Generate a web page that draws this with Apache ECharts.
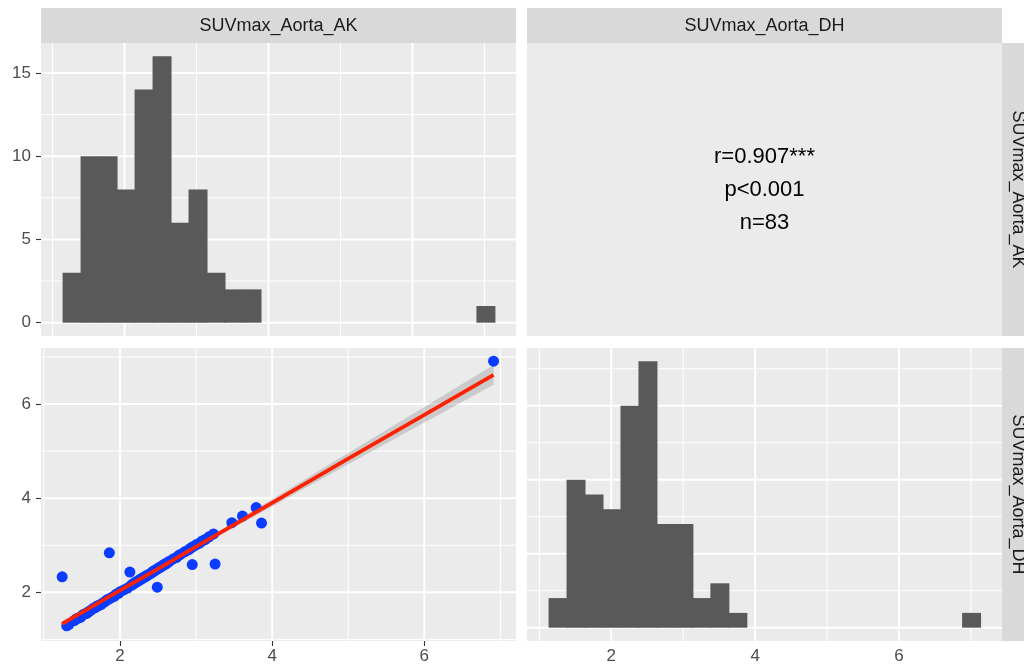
<!DOCTYPE html>
<html>
<head>
<meta charset="utf-8">
<script src="https://cdn.jsdelivr.net/npm/echarts@6/dist/echarts.min.js"></script>
<style>
  html, body { margin: 0; padding: 0; background: #ffffff; }
  #chart { width: 1024px; height: 669px; }
</style>
</head>
<body>
<div id="chart"></div>
<script>
// Paired SUVmax measurements (AK vs DH), one entry per subject
const akValues = [
  1.30, 1.33, 1.24,
  1.40, 1.43, 1.45, 1.48, 1.50, 1.52, 1.55, 1.57, 1.59, 1.62,
  1.65, 1.68, 1.70, 1.72, 1.75, 1.77, 1.80, 1.83, 1.86, 1.86,
  1.90, 1.93, 1.95, 1.98, 2.00, 2.05, 2.10, 2.13,
  2.15, 2.17, 2.19, 2.21, 2.23, 2.25, 2.27, 2.29, 2.30, 2.32, 2.34, 2.35, 2.36, 2.37,
  2.40, 2.42, 2.43, 2.45, 2.46, 2.48, 2.49, 2.50, 2.52, 2.53, 2.55, 2.57, 2.58, 2.60, 2.61, 2.62,
  2.65, 2.70, 2.74, 2.77, 2.80, 2.85,
  2.90, 2.93, 2.95, 2.96, 3.00, 3.04, 3.08, 3.12,
  3.17, 3.23, 3.25,
  3.47, 3.61,
  3.79, 3.86,
  6.91
];
const dhValues = [
  1.29, 1.32, 2.33,
  1.40, 1.44, 1.45, 1.47, 1.50, 1.53, 1.55, 1.56, 1.59, 1.62,
  1.66, 1.68, 1.71, 1.72, 1.74, 1.77, 1.80, 1.84, 1.86, 2.84,
  1.90, 1.92, 1.96, 1.98, 2.01, 2.05, 2.09, 2.43,
  2.15, 2.18, 2.19, 2.22, 2.23, 2.26, 2.27, 2.29, 2.31, 2.32, 2.34, 2.36, 2.36, 2.37,
  2.40, 2.42, 2.44, 2.45, 2.47, 2.48, 2.11, 2.51, 2.52, 2.54, 2.55, 2.58, 2.59, 2.60, 2.62, 2.62,
  2.66, 2.71, 2.74, 2.78, 2.81, 2.86,
  2.90, 2.94, 2.59, 2.97, 3.01, 3.04, 3.09, 3.12,
  3.18, 3.24, 2.60,
  3.48, 3.62,
  3.80, 3.47,
  6.91
];

// Histogram bins (width 0.25) and counts per bin
const akBinStart = 1.139;
const dhBinStart = 1.128;
const binWidth = 0.25;
const akCounts = [3, 10, 10, 8, 14, 16, 6, 8, 3, 2, 2, 0, 0, 0, 0, 0, 0, 0, 0, 0, 0, 0, 0, 1];
const dhCounts = [2, 10, 9, 8, 15, 18, 7, 7, 2, 3, 1, 0, 0, 0, 0, 0, 0, 0, 0, 0, 0, 0, 0, 1];

// Linear fit of DH on AK with its 95% confidence band
const fitX      = [1.24, 2.00, 2.50, 3.00, 4.00, 5.00, 6.00, 6.91];
const fitY      = [1.33, 2.04, 2.50, 2.97, 3.90, 4.84, 5.77, 6.62];
const bandLower = [1.265, 2.00, 2.465, 2.93, 3.825, 4.72, 5.605, 6.41];
const bandUpper = [1.395, 2.08, 2.535, 3.01, 3.975, 4.96, 5.935, 6.83];

// Tick labels and grid breaks
const suvTicks = [2, 4, 6];
const suvMinor = [1, 3, 5, 7];
const countTicks = [0, 5, 10, 15];
const countMinorAK = [2.5, 7.5, 12.5];
const countMinorDH = [2.5, 7.5, 12.5, 17.5];

const stripLabels = ['SUVmax_Aorta_AK', 'SUVmax_Aorta_DH'];
const corrLines = ['r=0.907***', 'p<0.001', 'n=83'];

// ---- layout ----
const FONT = '"Liberation Sans", Arial, Helvetica, sans-serif';
const P = {
  tl: { left: 41, top: 43, width: 475, height: 293 },
  tr: { left: 527, top: 43, width: 475, height: 293 },
  bl: { left: 41, top: 348, width: 475, height: 293 },
  br: { left: 527, top: 348, width: 475, height: 293 }
};
const STRIP = 35;

const range = {
  akHistX: [0.839, 7.439], akHistY: [-0.8, 16.8],
  scatX: [0.962, 7.205], scatY: [0.966, 7.19],
  dhHistX: [0.828, 7.433], dhHistY: [-0.9, 18.9]
};

const panelBg = '#EBEBEB';
const stripBg = '#D9D9D9';
const axisTextColor = '#4D4D4D';
const tickColor = '#333333';

function gridItems(xMaj, xMin, yMaj, yMin) {
  const out = [];
  xMin.forEach(v => out.push([0, v, 0]));
  yMin.forEach(v => out.push([1, v, 0]));
  xMaj.forEach(v => out.push([0, v, 1]));
  yMaj.forEach(v => out.push([1, v, 1]));
  return out;
}

function gridRenderer(xr, yr) {
  return function (params, api) {
    const dir = api.value(0), v = api.value(1), major = api.value(2);
    const a = dir === 0 ? api.coord([v, yr[0]]) : api.coord([xr[0], v]);
    const b = dir === 0 ? api.coord([v, yr[1]]) : api.coord([xr[1], v]);
    return {
      type: 'line',
      shape: { x1: a[0], y1: a[1], x2: b[0], y2: b[1] },
      style: { stroke: '#FFFFFF', lineWidth: major ? 2 : 1 },
      silent: true
    };
  };
}

function histItems(start, counts) {
  return counts
    .map((c, i) => [start + i * binWidth, start + (i + 1) * binWidth, c])
    .filter(d => d[2] > 0);
}

// Each bar overlaps its right neighbour by a pixel so adjacent bins join without seams
function histRenderer(params, api) {
  const p0 = api.coord([api.value(0), api.value(2)]);
  const p1 = api.coord([api.value(1), 0]);
  return {
    type: 'rect',
    shape: { x: p0[0], y: p0[1], width: p1[0] - p0[0] + 1, height: p1[1] - p0[1] },
    style: { fill: '#595959' }
  };
}

function bandRenderer(params, api) {
  const pts = [];
  for (let i = 0; i < fitX.length; i++) pts.push(api.coord([fitX[i], bandUpper[i]]));
  for (let i = fitX.length - 1; i >= 0; i--) pts.push(api.coord([fitX[i], bandLower[i]]));
  return { type: 'polygon', shape: { points: pts }, style: { fill: 'rgba(153,153,153,0.4)' } };
}

function valueAxis(gridIndex, r, labels, side) {
  const show = !!labels;
  return {
    type: 'value',
    gridIndex: gridIndex,
    min: r[0],
    max: r[1],
    position: side,
    axisLine: { show: false },
    splitLine: { show: false },
    minorSplitLine: { show: false },
    axisTick: show ? { show: true, customValues: labels, length: 5, lineStyle: { color: tickColor, width: 1.1 } } : { show: false },
    axisLabel: show ? {
      show: true, customValues: labels, color: axisTextColor, fontSize: 17, fontFamily: FONT,
      margin: side === 'left' ? 10 : 7
    } : { show: false }
  };
}

const scatterData = akValues.map((x, i) => [x, dhValues[i]]);
const fitData = fitX.map((x, i) => [x, fitY[i]]);

const chart = echarts.init(document.getElementById('chart'), null, { renderer: 'canvas' });

const gridCommon = { show: true, backgroundColor: panelBg, borderWidth: 0, containLabel: false, outerBoundsMode: 'none' };

function stripText(text, x, y, rot) {
  return {
    type: 'text', x: x, y: y, rotation: rot || 0, z: 10,
    style: { text: text, fontSize: 18, fontFamily: FONT, fill: '#1A1A1A', align: 'center', verticalAlign: 'middle' }
  };
}

chart.setOption({
  animation: false,
  backgroundColor: '#FFFFFF',
  grid: [
    Object.assign({}, gridCommon, P.tl),
    Object.assign({}, gridCommon, P.bl),
    Object.assign({}, gridCommon, P.br)
  ],
  xAxis: [
    valueAxis(0, range.akHistX, null, 'bottom'),
    valueAxis(1, range.scatX, suvTicks, 'bottom'),
    valueAxis(2, range.dhHistX, suvTicks, 'bottom')
  ],
  yAxis: [
    valueAxis(0, range.akHistY, countTicks, 'left'),
    valueAxis(1, range.scatY, suvTicks, 'left'),
    valueAxis(2, range.dhHistY, null, 'left')
  ],
  graphic: [
    // top strips
    { type: 'rect', z: 5, shape: { x: P.tl.left, y: P.tl.top - STRIP, width: P.tl.width, height: STRIP }, style: { fill: stripBg } },
    { type: 'rect', z: 5, shape: { x: P.tr.left, y: P.tr.top - STRIP, width: P.tr.width, height: STRIP }, style: { fill: stripBg } },
    stripText(stripLabels[0], P.tl.left + P.tl.width / 2, P.tl.top - STRIP / 2 + 0.5),
    stripText(stripLabels[1], P.tr.left + P.tr.width / 2, P.tr.top - STRIP / 2 + 0.5),
    // right strips
    { type: 'rect', z: 5, shape: { x: P.tr.left + P.tr.width, y: P.tr.top, width: STRIP, height: P.tr.height }, style: { fill: stripBg } },
    { type: 'rect', z: 5, shape: { x: P.br.left + P.br.width, y: P.br.top, width: STRIP, height: P.br.height }, style: { fill: stripBg } },
    stripText(stripLabels[0], P.tr.left + P.tr.width + 16, P.tr.top + P.tr.height / 2, -Math.PI / 2),
    stripText(stripLabels[1], P.br.left + P.br.width + 16, P.br.top + P.br.height / 2, -Math.PI / 2),
    // correlation panel
    { type: 'rect', z: 5, shape: { x: P.tr.left, y: P.tr.top, width: P.tr.width, height: P.tr.height }, style: { fill: panelBg } },
    {
      type: 'text', z: 11, x: P.tr.left + P.tr.width / 2, y: P.tr.top + P.tr.height / 2,
      style: { text: corrLines.join('\n'), fontSize: 22, lineHeight: 33, fontFamily: FONT, fill: '#000000', align: 'center', verticalAlign: 'middle' }
    }
  ],
  series: [
    // AK histogram panel
    { type: 'custom', xAxisIndex: 0, yAxisIndex: 0, silent: true, renderItem: gridRenderer(range.akHistX, range.akHistY),
      data: gridItems(suvTicks, suvMinor, countTicks, countMinorAK) },
    { type: 'custom', xAxisIndex: 0, yAxisIndex: 0, silent: true, renderItem: histRenderer,
      data: histItems(akBinStart, akCounts) },
    // scatter panel
    { type: 'custom', xAxisIndex: 1, yAxisIndex: 1, silent: true, renderItem: gridRenderer(range.scatX, range.scatY),
      data: gridItems(suvTicks, suvMinor, suvTicks, suvMinor) },
    { type: 'scatter', xAxisIndex: 1, yAxisIndex: 1, symbol: 'circle', symbolSize: 11,
      itemStyle: { color: '#0A3CFF', opacity: 1 }, data: scatterData },
    { type: 'custom', xAxisIndex: 1, yAxisIndex: 1, silent: true, renderItem: bandRenderer,
      data: [[fitX[0], bandLower[0]]] },
    { type: 'line', xAxisIndex: 1, yAxisIndex: 1, showSymbol: false, symbol: 'none',
      lineStyle: { color: '#FF2200', width: 3.8 }, data: fitData },
    // DH histogram panel
    { type: 'custom', xAxisIndex: 2, yAxisIndex: 2, silent: true, renderItem: gridRenderer(range.dhHistX, range.dhHistY),
      data: gridItems(suvTicks, suvMinor, countTicks, countMinorDH) },
    { type: 'custom', xAxisIndex: 2, yAxisIndex: 2, silent: true, renderItem: histRenderer,
      data: histItems(dhBinStart, dhCounts) }
  ]
});
</script>
</body>
</html>
